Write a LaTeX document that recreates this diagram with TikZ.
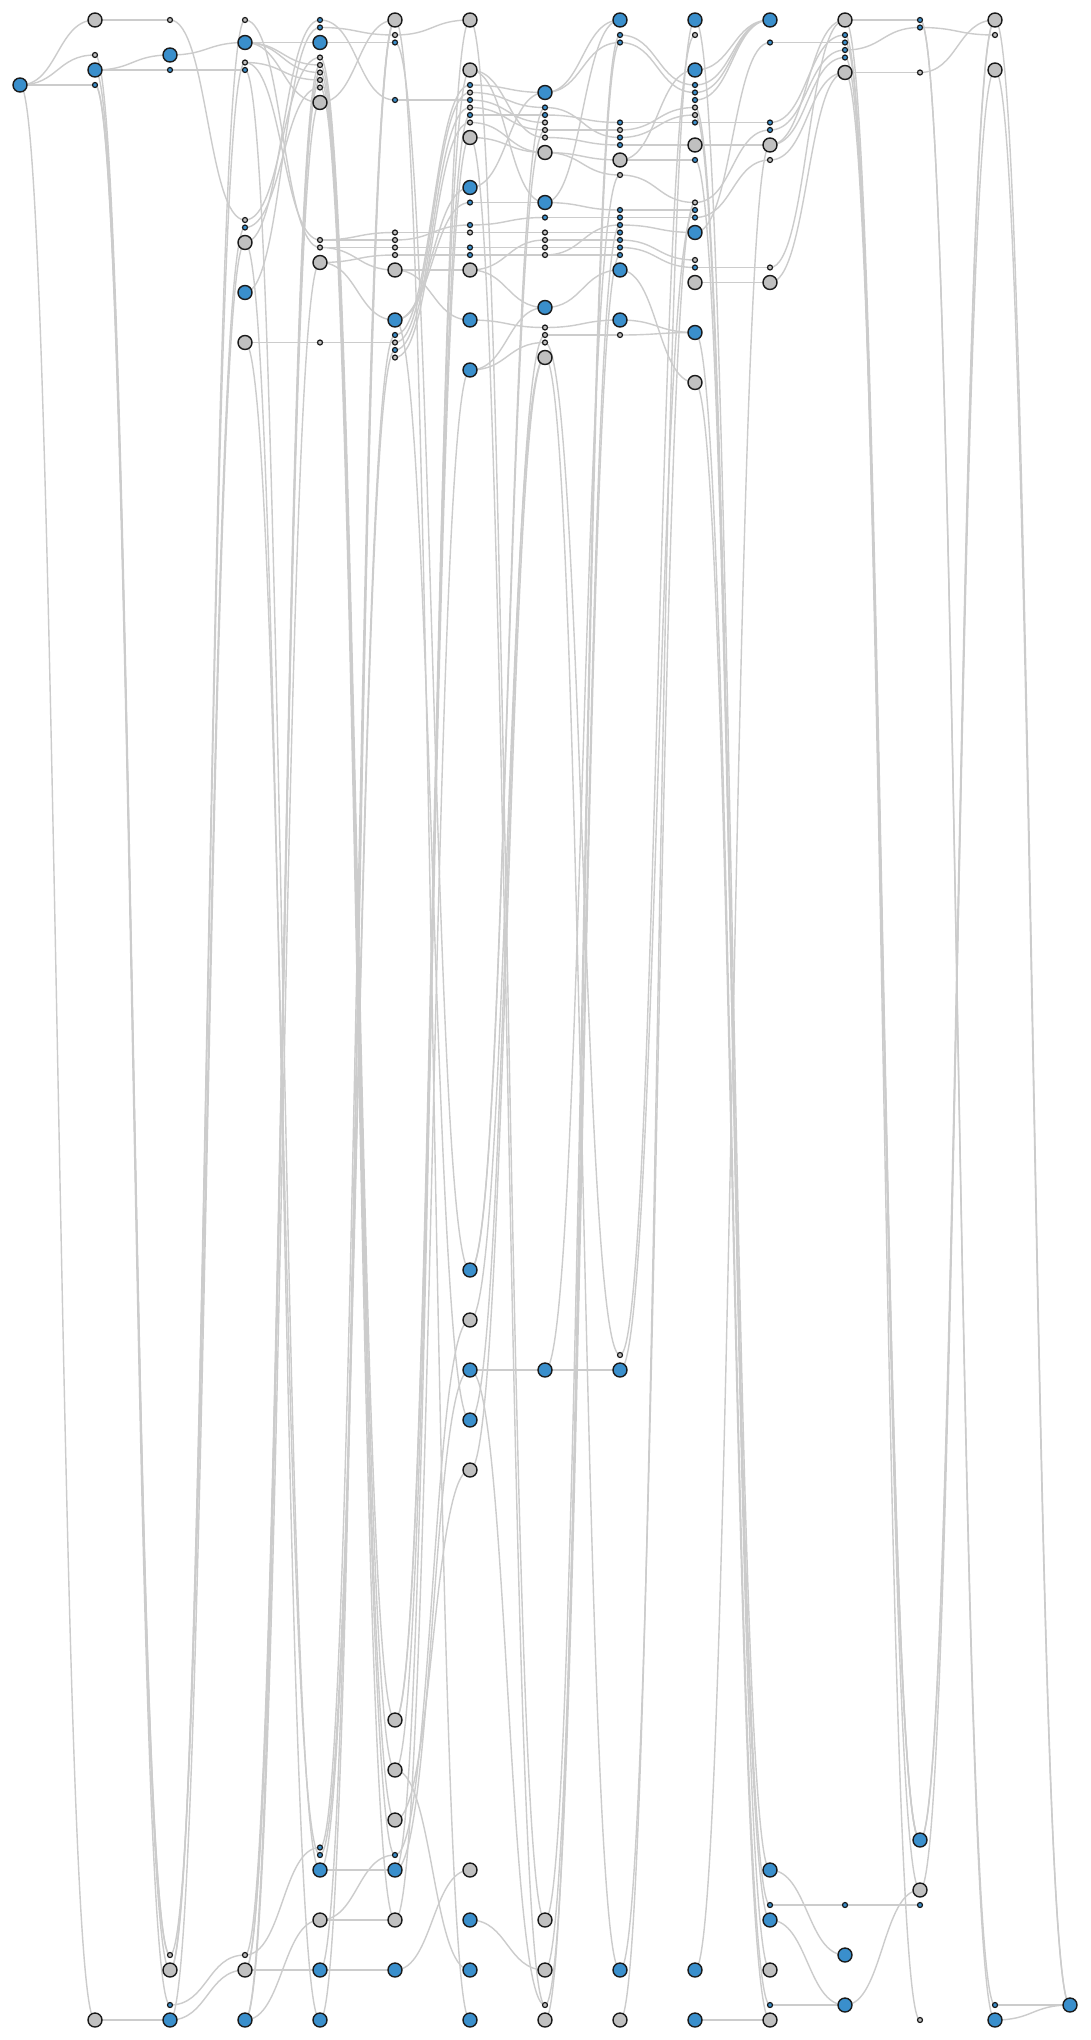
\documentclass[tikz,border=0pt]{standalone}
\usetikzlibrary{calc,backgrounds}
\definecolor{nblue}{RGB}{58,143,204}
\definecolor{ngray}{RGB}{192,192,192}
\definecolor{nline}{RGB}{26,26,26}
\definecolor{eline}{RGB}{204,204,204}
\tikzset{
  bn/.style={circle,draw=nline,fill=nblue,line width=1.4pt,minimum size=14pt,inner sep=0pt},
  gn/.style={circle,draw=nline,fill=ngray,line width=1.4pt,minimum size=14pt,inner sep=0pt},
  sbn/.style={circle,draw=nline,fill=nblue,line width=1.2pt,minimum size=5pt,inner sep=0pt},
  sgn/.style={circle,draw=nline,fill=ngray,line width=1.2pt,minimum size=5pt,inner sep=0pt},
  edge/.style={draw=eline,line width=1.4pt}
}
\newcommand\lk[2]{\draw[edge] let \p1=(#1.center),\p2=(#2.center) in (\p1) .. controls ({(\x1+\x2)/2},\y1) and ({(\x1+\x2)/2},\y2) .. (\p2);}
\begin{document}
\begin{tikzpicture}[x=1pt,y=-1pt]
\useasboundingbox (0,0) rectangle (1090,2040);
% column 0
\node[bn] (a0) at (20,85) {};
% column 1
\node[gn] (b1) at (95,20) {};
\node[sgn] (b2) at (95,55) {};
\node[bn] (b3) at (95,70) {};
\node[sbn] (b4) at (95,85) {};
\node[gn] (b5) at (95,2020) {};
% column 2
\node[sgn] (c1) at (170,20) {};
\node[bn] (c2) at (170,55) {};
\node[sbn] (c3) at (170,70) {};
\node[sgn] (c4) at (170,1955) {};
\node[gn] (c5) at (170,1970) {};
\node[sbn] (c6) at (170,2005) {};
\node[bn] (c7) at (170,2020) {};
% column 3
\node[sgn] (d1) at (245,20) {};
\node[bn] (d2) at (245,42.5) {};
\node[sgn] (d3) at (245,62.5) {};
\node[sbn] (d4) at (245,70) {};
\node[sgn] (d5) at (245,220) {};
\node[sbn] (d6) at (245,227.5) {};
\node[gn] (d7) at (245,242.5) {};
\node[bn] (d8) at (245,292.5) {};
\node[gn] (d9) at (245,342.5) {};
\node[sgn] (d10) at (245,1955) {};
\node[gn] (d11) at (245,1970) {};
\node[bn] (d12) at (245,2020) {};
% column 4
\node[sbn] (e1) at (320,20) {};
\node[sbn] (e2) at (320,27.5) {};
\node[bn] (e3) at (320,42.5) {};
\node[sgn] (e4) at (320,57.5) {};
\node[sgn] (e5) at (320,65) {};
\node[sgn] (e6) at (320,72.5) {};
\node[sgn] (e7) at (320,80) {};
\node[sgn] (e8) at (320,87.5) {};
\node[gn] (e9) at (320,102.5) {};
\node[sgn] (e10) at (320,240) {};
\node[sgn] (e11) at (320,247.5) {};
\node[gn] (e12) at (320,262.5) {};
\node[sgn] (e13) at (320,342.5) {};
\node[sbn] (e14) at (320,1847.5) {};
\node[sbn] (e15) at (320,1855) {};
\node[bn] (e16) at (320,1870) {};
\node[gn] (e17) at (320,1920) {};
\node[bn] (e18) at (320,1970) {};
\node[bn] (e19) at (320,2020) {};
% column 5
\node[gn] (f1) at (395,20) {};
\node[sgn] (f2) at (395,35) {};
\node[sbn] (f3) at (395,42.5) {};
\node[sbn] (f4) at (395,100) {};
\node[sgn] (f5) at (395,232.5) {};
\node[sgn] (f6) at (395,240) {};
\node[sgn] (f7) at (395,247.5) {};
\node[sgn] (f8) at (395,255) {};
\node[gn] (f9) at (395,270) {};
\node[bn] (f10) at (395,320) {};
\node[sbn] (f11) at (395,335) {};
\node[sgn] (f12) at (395,342.5) {};
\node[sbn] (f13) at (395,350) {};
\node[sgn] (f14) at (395,357.5) {};
\node[gn] (f15) at (395,1720) {};
\node[gn] (f16) at (395,1770) {};
\node[gn] (f17) at (395,1820) {};
\node[sbn] (f18) at (395,1855) {};
\node[bn] (f19) at (395,1870) {};
\node[gn] (f20) at (395,1920) {};
\node[bn] (f21) at (395,1970) {};
% column 6
\node[gn] (g1) at (470,20) {};
\node[gn] (g2) at (470,70) {};
\node[sbn] (g3) at (470,85) {};
\node[sgn] (g4) at (470,92.5) {};
\node[sbn] (g5) at (470,100) {};
\node[sgn] (g6) at (470,107.5) {};
\node[sbn] (g7) at (470,115) {};
\node[sgn] (g8) at (470,122.5) {};
\node[gn] (g9) at (470,137.5) {};
\node[bn] (g10) at (470,187.5) {};
\node[sbn] (g11) at (470,202.5) {};
\node[sbn] (g12) at (470,225) {};
\node[sgn] (g13) at (470,232.5) {};
\node[sbn] (g14) at (470,247.5) {};
\node[sbn] (g15) at (470,255) {};
\node[gn] (g16) at (470,270) {};
\node[bn] (g17) at (470,320) {};
\node[bn] (g18) at (470,370) {};
\node[bn] (g19) at (470,1270) {};
\node[gn] (g20) at (470,1320) {};
\node[bn] (g21) at (470,1370) {};
\node[bn] (g22) at (470,1420) {};
\node[gn] (g23) at (470,1470) {};
\node[gn] (g24) at (470,1870) {};
\node[bn] (g25) at (470,1920) {};
\node[bn] (g26) at (470,1970) {};
\node[bn] (g27) at (470,2020) {};
% column 7
\node[bn] (h1) at (545,92.5) {};
\node[sbn] (h2) at (545,107.5) {};
\node[sbn] (h3) at (545,115) {};
\node[sgn] (h4) at (545,122.5) {};
\node[sgn] (h5) at (545,130) {};
\node[sgn] (h6) at (545,137.5) {};
\node[gn] (h7) at (545,152.5) {};
\node[bn] (h8) at (545,202.5) {};
\node[sbn] (h9) at (545,217.5) {};
\node[sgn] (h10) at (545,232.5) {};
\node[sgn] (h11) at (545,240) {};
\node[sgn] (h12) at (545,247.5) {};
\node[sgn] (h13) at (545,255) {};
\node[bn] (h14) at (545,307.5) {};
\node[sgn] (h15) at (545,327.5) {};
\node[sgn] (h16) at (545,335) {};
\node[sgn] (h17) at (545,342.5) {};
\node[gn] (h18) at (545,357.5) {};
\node[bn] (h19) at (545,1370) {};
\node[gn] (h20) at (545,1920) {};
\node[gn] (h21) at (545,1970) {};
\node[sgn] (h22) at (545,2005) {};
\node[gn] (h23) at (545,2020) {};
% column 8
\node[bn] (i1) at (620,20) {};
\node[sbn] (i2) at (620,35) {};
\node[sbn] (i3) at (620,42.5) {};
\node[sbn] (i4) at (620,122.5) {};
\node[sgn] (i5) at (620,130) {};
\node[sbn] (i6) at (620,137.5) {};
\node[sbn] (i7) at (620,145) {};
\node[gn] (i8) at (620,160) {};
\node[sgn] (i9) at (620,175) {};
\node[sbn] (i10) at (620,210) {};
\node[sbn] (i11) at (620,217.5) {};
\node[sbn] (i12) at (620,225) {};
\node[sbn] (i13) at (620,232.5) {};
\node[sbn] (i14) at (620,240) {};
\node[sbn] (i15) at (620,247.5) {};
\node[sbn] (i16) at (620,255) {};
\node[bn] (i17) at (620,270) {};
\node[bn] (i18) at (620,320) {};
\node[sgn] (i19) at (620,335) {};
\node[sgn] (i20) at (620,1355) {};
\node[bn] (i21) at (620,1370) {};
\node[bn] (i22) at (620,1970) {};
\node[gn] (i23) at (620,2020) {};
% column 9
\node[bn] (j1) at (695,20) {};
\node[sgn] (j2) at (695,35) {};
\node[bn] (j3) at (695,70) {};
\node[sbn] (j4) at (695,85) {};
\node[sbn] (j5) at (695,92.5) {};
\node[sbn] (j6) at (695,100) {};
\node[sgn] (j7) at (695,107.5) {};
\node[sgn] (j8) at (695,115) {};
\node[sbn] (j9) at (695,122.5) {};
\node[gn] (j10) at (695,145) {};
\node[sbn] (j11) at (695,160) {};
\node[sgn] (j12) at (695,202.5) {};
\node[sbn] (j13) at (695,210) {};
\node[sbn] (j14) at (695,217.5) {};
\node[bn] (j15) at (695,232.5) {};
\node[sgn] (j16) at (695,260) {};
\node[sbn] (j17) at (695,267.5) {};
\node[gn] (j18) at (695,282.5) {};
\node[bn] (j19) at (695,332.5) {};
\node[gn] (j20) at (695,382.5) {};
\node[bn] (j21) at (695,1970) {};
\node[bn] (j22) at (695,2020) {};
% column 10
\node[bn] (k1) at (770,20) {};
\node[sbn] (k2) at (770,42.5) {};
\node[sbn] (k3) at (770,122.5) {};
\node[sbn] (k4) at (770,130) {};
\node[gn] (k5) at (770,145) {};
\node[sgn] (k6) at (770,160) {};
\node[sgn] (k7) at (770,267.5) {};
\node[gn] (k8) at (770,282.5) {};
\node[bn] (k9) at (770,1870) {};
\node[sbn] (k10) at (770,1905) {};
\node[bn] (k11) at (770,1920) {};
\node[gn] (k12) at (770,1970) {};
\node[sbn] (k13) at (770,2005) {};
\node[gn] (k14) at (770,2020) {};
% column 11
\node[gn] (l1) at (845,20) {};
\node[sbn] (l2) at (845,35) {};
\node[sbn] (l3) at (845,42.5) {};
\node[sbn] (l4) at (845,50) {};
\node[sbn] (l5) at (845,57.5) {};
\node[gn] (l6) at (845,72.5) {};
\node[sbn] (l7) at (845,1905) {};
\node[bn] (l8) at (845,1955) {};
\node[bn] (l9) at (845,2005) {};
% column 12
\node[sbn] (m1) at (920,20) {};
\node[sbn] (m2) at (920,27.5) {};
\node[sgn] (m3) at (920,72.5) {};
\node[bn] (m4) at (920,1840) {};
\node[gn] (m5) at (920,1890) {};
\node[sbn] (m6) at (920,1905) {};
\node[sgn] (m7) at (920,2020) {};
% column 13
\node[gn] (n1) at (995,20) {};
\node[sgn] (n2) at (995,35) {};
\node[gn] (n3) at (995,70) {};
\node[sbn] (n4) at (995,2005) {};
\node[bn] (n5) at (995,2020) {};
% column 14
\node[bn] (o1) at (1070,2005) {};
\begin{scope}[on background layer]
\fill[white] (0,0) rectangle (1090,2040);
\foreach \u/\v in {a0/b1,a0/b2,a0/b4,a0/b5,
  b1/c1,b3/c2,b3/c3,b2/c4,b3/c5,b4/c6,b4/c4,b5/c7,
  c1/d5,c2/d2,c3/d4,c4/d6,c5/d1,c5/d3,c6/d10,c7/d11,c7/d7,
  d1/e11,d2/e3,d2/e5,d2/e6,d2/e9,d3/e7,d3/e10,d4/e16,d5/e4,d6/e8,d7/e1,d7/e19,d8/e2,d9/e13,d9/e15,
  d10/e14,d10/e5,d11/e18,d11/e9,d11/e7,d12/e17,d12/e12,d12/e6,
  e1/f4,e2/f2,e3/f3,e9/f1,e4/f15,e5/f16,e6/f17,e7/f18,e8/f20,e10/f6,e10/f5,e11/f9,e11/f7,e12/f8,e12/f10,
  e13/f12,e14/f1,e15/f11,e16/f19,e16/f13,e17/f20,e17/f18,e18/f21,e18/f1,e19/f1,
  f1/g27,f2/g1,f3/g19,f4/g5,f5/g13,f6/g12,f7/g14,f8/g15,f9/g16,f9/g17,f10/g10,f10/g11,f10/g22,f11/g3,f12/g4,
  f13/g6,f14/g8,f15/g2,f15/g7,f16/g26,f16/g9,f17/g23,f18/g20,f19/g1,f19/g21,f20/g18,f21/g24,
  g1/h20,g2/h6,g2/h8,g3/h1,g4/h2,g5/h4,g6/h5,g7/h3,g8/h7,g9/h7,g9/h22,g10/h1,g11/h8,g12/h9,g13/h10,g14/h12,
  g15/h13,g16/h11,g16/h14,g17/h15,g18/h14,g18/h17,g19/h2,g19/h5,g20/h18,g21/h19,g21/h22,g22/h16,g23/h18,g25/h21,
  h1/i3,h1/i1,h2/i6,h3/i4,h5/i5,h6/i7,h7/i8,h7/i9,h8/i1,h8/i10,h9/i11,h10/i13,h11/i14,h12/i15,h13/i16,h13/i12,
  h14/i17,h15/i18,h16/i19,h17/i20,h18/i22,h19/i21,h19/i9,h20/i2,h21/i12,h23/i3,h22/i16,
  i2/j4,i3/j5,i4/j9,i5/j7,i6/j8,i7/j10,i8/j3,i8/j11,i9/j12,i10/j13,i11/j14,i12/j15,i14/j16,i15/j17,
  i17/j20,i18/j19,i19/j19,i20/j2,i21/j13,i22/j12,i23/j1,
  j1/k9,j3/k1,j4/k1,j5/k1,j6/k1,j7/k10,j8/k12,j9/k3,j10/k5,j11/k11,j12/k4,j14/k6,j15/k2,j17/k7,j18/k8,
  j19/k13,j20/k14,j21/k5,j22/k14,
  k2/l3,k3/l2,k4/l4,k5/l5,k5/l1,k6/l6,k7/l1,k8/l6,k9/l8,k10/l7,k11/l9,k13/l9,
  l1/m1,l4/m2,l6/m3,l7/m6,l9/m5,l1/m4,l2/m7,l3/m5,l5/m4,l6/m4,
  m1/n4,m1/n5,m2/n2,m3/n1,m4/n3,m5/n1,m4/n1,
  n1/o1,n3/o1,n4/o1,n5/o1}
  {\lk{\u}{\v}}
\end{scope}
\end{tikzpicture}
\end{document}
